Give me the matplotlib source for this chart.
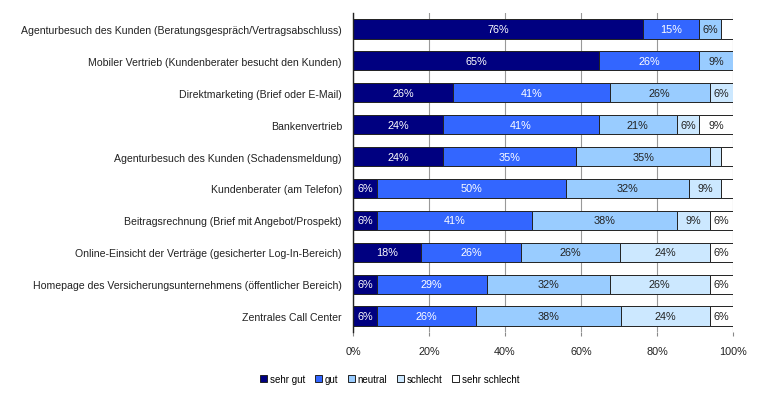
import matplotlib.pyplot as plt
import numpy as np

plt.rcParams['font.family'] = ['Liberation Sans', 'DejaVu Sans']

# Kanäle (von oben nach unten)
kanaele = [
    'Agenturbesuch des Kunden (Beratungsgespräch/Vertragsabschluss)',
    'Mobiler Vertrieb (Kundenberater besucht den Kunden)',
    'Direktmarketing (Brief oder E-Mail)',
    'Bankenvertrieb',
    'Agenturbesuch des Kunden (Schadensmeldung)',
    'Kundenberater (am Telefon)',
    'Beitragsrechnung (Brief mit Angebot/Prospekt)',
    'Online-Einsicht der Verträge (gesicherter Log-In-Bereich)',
    'Homepage des Versicherungsunternehmens (öffentlicher Bereich)',
    'Zentrales Call Center',
]

# Anteile in %
sehr_gut = [76.4, 64.7, 26.4, 23.8, 23.8, 6.2, 6.2, 17.9, 6.2, 6.2]
gut = [14.6, 26.3, 41.1, 40.8, 35.0, 49.8, 41.0, 26.4, 29.0, 26.2]
neutral = [5.8, 9.0, 26.4, 20.6, 35.2, 32.3, 38.0, 26.0, 32.3, 38.0]
schlecht = [0.0, 0.0, 6.1, 5.8, 2.8, 8.6, 8.8, 23.6, 26.4, 23.6]
sehr_schlecht = [3.2, 0.0, 0.0, 9.0, 3.2, 3.1, 6.0, 6.0, 6.0, 6.0]

reihen = ['sehr gut', 'gut', 'neutral', 'schlecht', 'sehr schlecht']
werte = [sehr_gut, gut, neutral, schlecht, sehr_schlecht]
farben = ['#000080', '#3366ff', '#99ccff', '#cce8ff', '#ffffff']
textfarben = ['white', 'white', '#222222', '#222222', '#222222']

fig = plt.figure(figsize=(7.62, 4.02), dpi=100)
ax = fig.add_axes([0.4633, 0.1716, 0.4987, 0.7935])

y = np.arange(len(kanaele))
links = np.zeros(len(kanaele))
for name, vals, farbe, tf in zip(reihen, werte, farben, textfarben):
    vals = np.array(vals, dtype=float)
    bars = ax.barh(y, vals, left=links, height=0.6, color=farbe,
                   edgecolor='#222222', linewidth=0.7, label=name, zorder=3)
    for b, v, l in zip(bars, vals, links):
        if v >= 5:
            ax.text(l + v / 2, b.get_y() + b.get_height() / 2, f'{v:.0f}%',
                    ha='center', va='center', color=tf, fontsize=7.8,
                    zorder=4)
    links += vals

ax.set_xlim(0, 100)
ax.set_ylim(len(kanaele) - 0.5, -0.5)
ax.set_yticks(y)
ax.set_yticklabels(kanaele, fontsize=7.6, color='#222222')
ax.set_xticks(np.arange(0, 101, 20))
ax.set_xticklabels([f'{t}%' for t in range(0, 101, 20)], fontsize=7.8,
                   color='#222222')
ax.tick_params(axis='y', length=0, pad=8)
ax.tick_params(axis='x', length=3, color='#888888', pad=7)
ax.grid(axis='x', color='#999999', linewidth=0.8, zorder=0)
for s in ['top', 'right', 'bottom']:
    ax.spines[s].set_visible(False)
ax.spines['left'].set_color('#222222')
ax.spines['left'].set_linewidth(1.0)
ax.spines['left'].set_zorder(5)

fig.legend(loc='lower left', bbox_to_anchor=(0.335, 0.03), ncol=5,
           frameon=False, fontsize=7, handlelength=0.7, handleheight=0.7,
           handletextpad=0.3, columnspacing=1.0, borderpad=0)

fig.savefig('out.png', dpi=100, facecolor='white')
